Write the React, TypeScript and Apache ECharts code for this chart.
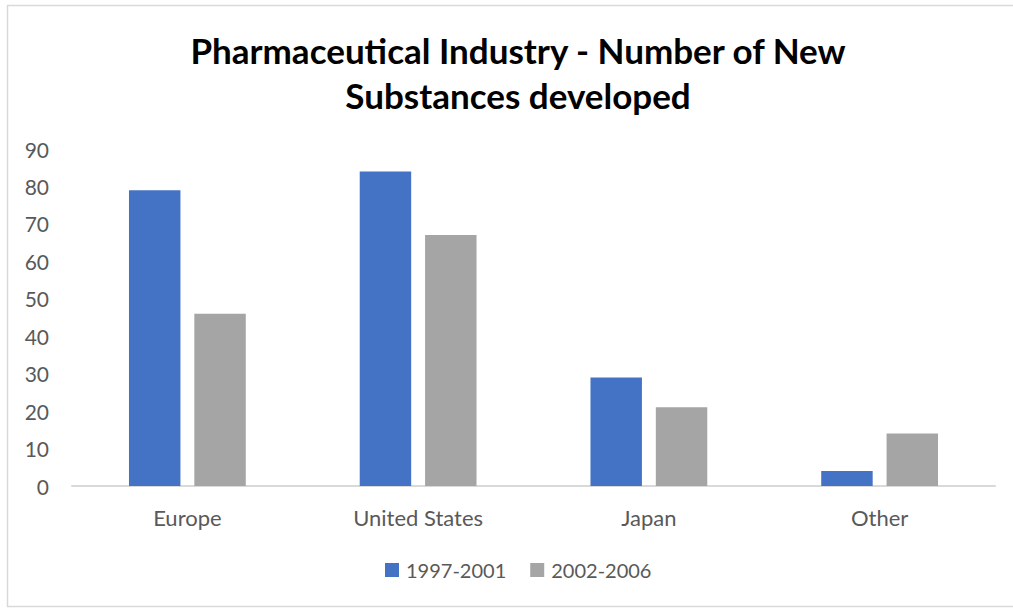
import React, { useEffect, useRef } from "react";
import * as echarts from "echarts";

const categories = ["Europe", "United States", "Japan", "Other"];
const series1997 = [79, 84, 29, 4];
const series2002 = [46, 67, 21, 14];
const seriesNames = ["1997-2001", "2002-2006"];
const yTicks = { min: 0, max: 90, interval: 10 };

const FONT = "Lato, 'Open Sans', sans-serif";

export default function App() {
  const ref = useRef<HTMLDivElement>(null);

  useEffect(() => {
    if (!ref.current) return;
    const chart = echarts.init(ref.current, undefined, { renderer: "svg" });
    chart.setOption({
      animation: false,
      backgroundColor: "#ffffff",
      textStyle: { fontFamily: FONT },
      title: {
        text: "Pharmaceutical Industry - Number of New\nSubstances developed",
        left: 513,
        top: 22,
        textAlign: "center",
        textStyle: {
          fontFamily: FONT,
          fontSize: 35,
          fontWeight: "bold",
          color: "#000000",
          lineHeight: 45,
        },
      },
      legend: {
        data: seriesNames,
        left: 380,
        top: 555,
        itemWidth: 14,
        itemHeight: 14,
        itemGap: 24,
        icon: "rect",
        textStyle: { fontFamily: FONT, fontSize: 20, color: "#595959", padding: [0, 0, 0, 2] },
      },
      grid: { left: 72, right: 18, top: 149, bottom: 122, containLabel: false },
      xAxis: {
        type: "category",
        data: categories,
        axisLine: { lineStyle: { color: "#d9d9d9", width: 2 } },
        axisTick: { show: false },
        axisLabel: { fontFamily: FONT, fontSize: 22, color: "#595959", margin: 20 },
      },
      yAxis: {
        type: "value",
        min: yTicks.min,
        max: yTicks.max,
        interval: yTicks.interval,
        axisLine: { show: false },
        axisTick: { show: false },
        splitLine: { show: false },
        axisLabel: { fontFamily: FONT, fontSize: 21, color: "#595959", margin: 23 },
      },
      series: [
        {
          name: seriesNames[0],
          type: "bar",
          data: series1997,
          barWidth: "22.3%",
          barGap: "27%",
          itemStyle: { color: "#4472C4" },
        },
        {
          name: seriesNames[1],
          type: "bar",
          data: series2002,
          barWidth: "22.3%",
          itemStyle: { color: "#A5A5A5" },
        },
      ],
      graphic: [
        {
          type: "rect",
          shape: { x: 7.5, y: 5.5, width: 1010, height: 601 },
          style: { fill: "none", stroke: "#d9d9d9", lineWidth: 1.5 },
          silent: true,
        },
      ],
    });
    return () => chart.dispose();
  }, []);

  return (
    <div
      ref={ref}
      style={{ position: "fixed", left: 0, top: 0, width: 1013, height: 608 }}
    />
  );
}
